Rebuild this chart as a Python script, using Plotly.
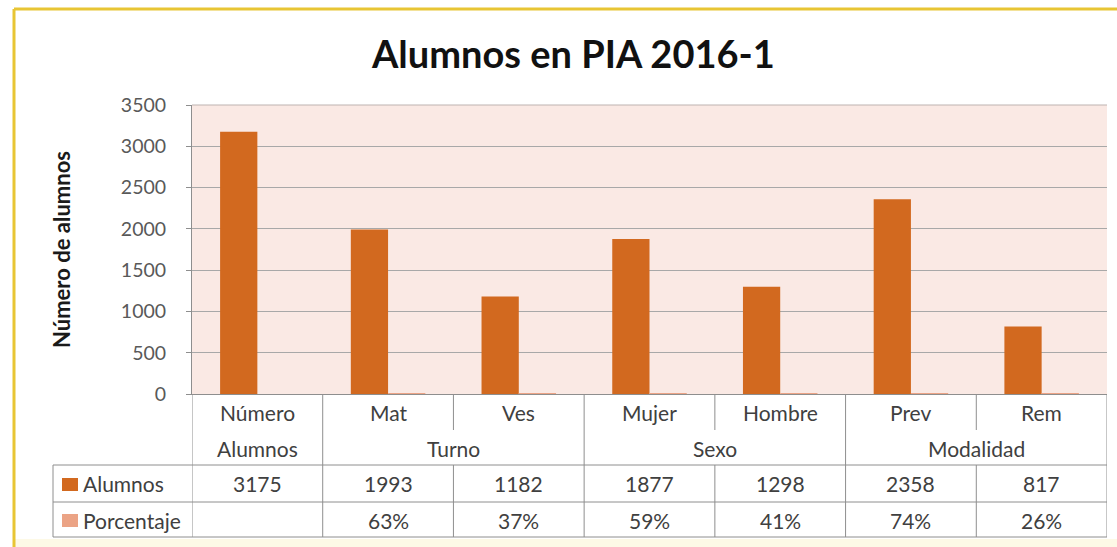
import plotly.graph_objects as go

# ---- data ----
sub_labels = ["Número", "Mat", "Ves", "Mujer", "Hombre", "Prev", "Rem"]
group_labels = ["Alumnos", "Turno", "Sexo", "Modalidad"]
group_spans = [(0, 0), (1, 2), (3, 4), (5, 6)]
alumnos = [3175, 1993, 1182, 1877, 1298, 2358, 817]
porcentaje = [None, 0.63, 0.37, 0.59, 0.41, 0.74, 0.26]
porcentaje_txt = ["", "63%", "37%", "59%", "41%", "74%", "26%"]
series_names = ["Alumnos", "Porcentaje"]
y_ticks = [0, 500, 1000, 1500, 2000, 2500, 3000, 3500]
title_text = "Alumnos en PIA 2016-1"
y_title = "Número de alumnos"

# ---- layout geometry (pixels) ----
W, H = 1117, 547
L, R, T, B = 192, 1107, 105, 394
C_ALU = "#D2691F"
C_PCT = "#EBA385"
FONT = "Lato"
TXT = "#404040"
LINE = "#8E8E8E"


def px(x):
    return (x - L) / (R - L)


def py(y):
    return (B - y) / (B - T)


fig = go.Figure()
fig.add_trace(go.Bar(x=sub_labels, y=alumnos, name=series_names[0],
                     marker=dict(color=C_ALU, line=dict(width=0))))
fig.add_trace(go.Bar(x=sub_labels, y=porcentaje, name=series_names[1],
                     marker=dict(color=C_PCT, line=dict(width=0))))

shapes = []
annotations = []

# outer frame (gold top/left) and pale bottom
shapes.append(dict(type="rect", xref="paper", yref="paper", x0=px(15), x1=px(W + 5),
                   y0=py(539), y1=py(H + 5), fillcolor="#FDF9E6", line=dict(width=0),
                   layer="below"))
shapes.append(dict(type="line", xref="paper", yref="paper", x0=px(14), x1=px(W + 5),
                   y0=py(9), y1=py(9), line=dict(color="#E8C534", width=3)))
shapes.append(dict(type="line", xref="paper", yref="paper", x0=px(14), x1=px(14),
                   y0=py(9), y1=py(H + 5), line=dict(color="#E8C534", width=3)))

# table lines
n = len(sub_labels)
y_hdr_mid = 430
y_r1, y_r2, y_r3 = 465, 502, 537
for yy in (y_r1, y_r2, y_r3):
    shapes.append(dict(type="line", xref="paper", yref="paper", x0=px(53), x1=px(R),
                       y0=py(yy), y1=py(yy), line=dict(color=LINE, width=1)))
shapes.append(dict(type="line", xref="paper", yref="paper", x0=px(53), x1=px(53),
                   y0=py(y_r1), y1=py(y_r3), line=dict(color=LINE, width=1)))
group_starts = {s for s, e in group_spans}
for i in range(n + 1):
    xb = i - 0.5
    if i == 0 or i == n or i in group_starts:
        shapes.append(dict(type="line", xref="x", yref="paper", x0=xb, x1=xb,
                           y0=py(B), y1=py(y_r3), line=dict(color=LINE, width=1)))
    else:
        shapes.append(dict(type="line", xref="x", yref="paper", x0=xb, x1=xb,
                           y0=py(B), y1=py(y_hdr_mid), line=dict(color=LINE, width=1)))
        shapes.append(dict(type="line", xref="x", yref="paper", x0=xb, x1=xb,
                           y0=py(y_r1), y1=py(y_r3), line=dict(color=LINE, width=1)))

tfont = dict(family=FONT, size=21, color=TXT)
for i, lab in enumerate(sub_labels):
    annotations.append(dict(x=i, y=py(412), xref="x", yref="paper", text=lab,
                            showarrow=False, font=tfont, xanchor="center", yanchor="middle"))
    annotations.append(dict(x=i, y=py(484), xref="x", yref="paper", text=str(alumnos[i]),
                            showarrow=False, font=tfont, xanchor="center", yanchor="middle"))
    annotations.append(dict(x=i, y=py(520), xref="x", yref="paper", text=porcentaje_txt[i],
                            showarrow=False, font=tfont, xanchor="center", yanchor="middle"))
for g, (s, e) in zip(group_labels, group_spans):
    annotations.append(dict(x=(s + e) / 2, y=py(448), xref="x", yref="paper", text=g,
                            showarrow=False, font=tfont, xanchor="center", yanchor="middle"))

# legend keys in table
for name, col, yy in [(series_names[0], C_ALU, 484), (series_names[1], C_PCT, 520)]:
    shapes.append(dict(type="rect", xref="paper", yref="paper", x0=px(62), x1=px(78),
                       y0=py(yy - 6), y1=py(yy + 7), fillcolor=col, line=dict(width=0)))
    annotations.append(dict(x=px(81), y=py(yy), xref="paper", yref="paper", text=name,
                            showarrow=False, font=tfont, xanchor="left", yanchor="middle"))

# y axis title
annotations.append(dict(x=px(61), y=py(250), xref="paper", yref="paper", text="<b>" + y_title + "</b>",
                        textangle=-90, showarrow=False,
                        font=dict(family=FONT, size=22, color="#1a1a1a"),
                        xanchor="center", yanchor="middle"))
# title
annotations.append(dict(x=px(573), y=py(53), xref="paper", yref="paper", text="<b>" + title_text + "</b>",
                        showarrow=False, font=dict(family=FONT, size=38, color="#111111"),
                        xanchor="center", yanchor="middle"))

fig.update_layout(
    width=W, height=H,
    margin=dict(l=L, r=W - R, t=T, b=H - B, pad=0),
    paper_bgcolor="#FFFFFF",
    plot_bgcolor="#FAE9E4",
    barmode="group", bargap=0.43, bargroupgap=0,
    showlegend=False,
    shapes=shapes, annotations=annotations,
    xaxis=dict(showticklabels=False, showgrid=False, zeroline=False, ticks="",
               showline=True, linecolor=LINE, linewidth=1, mirror=False,
               range=[-0.5, n - 0.5]),
    yaxis=dict(range=[0, 3500], tickvals=y_ticks, showgrid=True, gridcolor="#A8A8A8",
               gridwidth=1, zeroline=False, showline=True, linecolor=LINE, linewidth=1,
               ticks="outside", ticklen=5, tickcolor=LINE, ticklabelstandoff=16,
               tickfont=dict(family=FONT, size=19.5, color="#595959")),
)
fig.add_shape(type="line", xref="paper", yref="paper", x0=0, x1=1, y0=1, y1=1,
              line=dict(color="#BDB3B0", width=1))

fig.write_html("out.html", config={"displayModeBar": False},
               post_script="document.body.style.margin='0';")
